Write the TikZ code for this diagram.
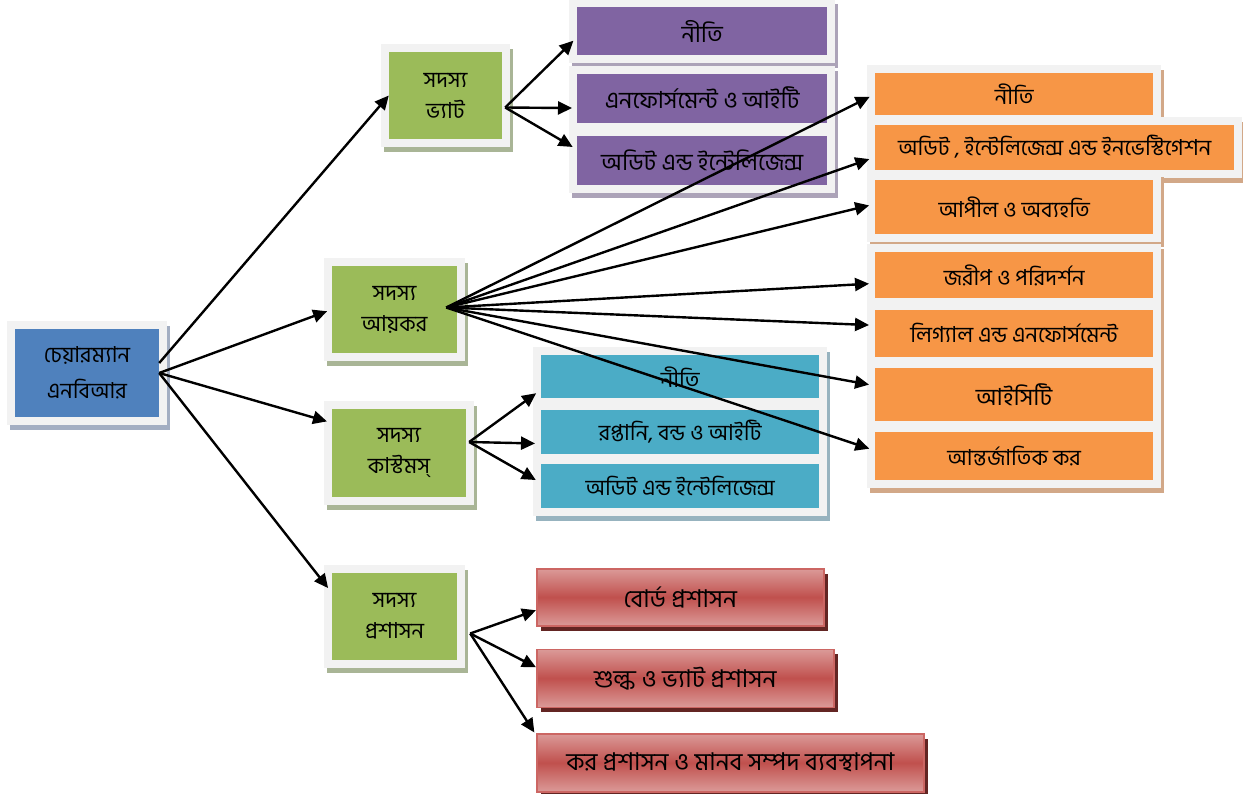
\documentclass[tikz,border=0pt]{standalone}
\usepackage{fontspec}
\newfontfamily\bn[Script=Bengali]{Hind Siliguri}
\usetikzlibrary{arrows.meta, positioning}
\definecolor{framegray}{HTML}{F2F2F2}
\definecolor{chairblue}{HTML}{4F81BD}
\definecolor{memgreen}{HTML}{9BBB59}
\definecolor{vatpurple}{HTML}{8064A2}
\definecolor{taxorange}{HTML}{F79646}
\definecolor{cuscyan}{HTML}{4BACC6}
\definecolor{admred}{HTML}{C0504D}
\definecolor{admredlt}{HTML}{DB9A98}
\definecolor{admborder}{HTML}{CC6663}
\definecolor{admshadow}{HTML}{632523}
\definecolor{sdblue}{HTML}{A3AEC2}
\definecolor{sdgreen}{HTML}{A9B596}
\definecolor{sdpurple}{HTML}{ACA3B8}
\definecolor{sdorange}{HTML}{D2A888}
\definecolor{sdcyan}{HTML}{97B3BF}

\begin{document}
\begin{tikzpicture}[x=1pt, y=-1pt, every node/.style={font=\bn\fontsize{22}{31}\selectfont, inner sep=0pt, align=center}]
  % styles
  \tikzstyle{framebox}=[rectangle, preaction={draw=framegray, line width=16pt}]
  \tikzstyle{chairbox}=[preaction={draw=sdblue, fill=sdblue, line width=16pt, transform canvas={xshift=3pt, yshift=-5pt}}, framebox, fill=chairblue, minimum width=144pt, minimum height=88pt, font=\bn\fontsize{22}{36}\selectfont]
  \tikzstyle{member}=[preaction={draw=sdgreen, fill=sdgreen, line width=16pt, transform canvas={xshift=3pt, yshift=-5pt}}, framebox, fill=memgreen, minimum height=87pt]
  \tikzstyle{vatitem}=[preaction={draw=sdpurple, fill=sdpurple, line width=16pt, transform canvas={xshift=3pt, yshift=-5pt}}, framebox, fill=vatpurple, minimum width=250pt, font=\bn\fontsize{23.5}{30}\selectfont]
  \tikzstyle{taxitem}=[preaction={draw=sdorange, fill=sdorange, line width=16pt, transform canvas={xshift=3pt, yshift=-5pt}}, framebox, fill=taxorange, minimum width=278pt]
  \tikzstyle{cusitem}=[preaction={draw=sdcyan, fill=sdcyan, line width=16pt, transform canvas={xshift=3pt, yshift=-5pt}}, framebox, fill=cuscyan, minimum width=278pt, minimum height=44pt]
  \tikzstyle{admitem}=[rectangle, preaction={fill=admshadow, transform canvas={xshift=4pt, yshift=-5pt}}, draw=admborder, line width=1.5pt, top color=admredlt, bottom color=admredlt, middle color=admred, minimum height=58pt, font=\bn\fontsize{24.5}{30}\selectfont]
  \tikzstyle{arrow}=[line width=2.4pt, -{Triangle[length=14pt, width=13pt]}]

  \useasboundingbox (0,0) rectangle (1243,794);

  % head nodes
  \node (chair) [chairbox] at (87,373) {চেয়ারম্যান\\এনবিআর};
  \node (vat) [member, minimum width=113pt] at (445.5,95.5) {সদস্য\\ভ্যাট};
  \node (tax) [member, minimum width=125pt] at (394.5,309.5) {সদস্য\\আয়কর};
  \node (cus) [member, minimum width=134pt, minimum height=88pt] at (399,453) {সদস্য\\কাস্টমস্};
  \node (adm) [member, minimum width=125pt] at (394.5,616.5) {সদস্য\\প্রশাসন};

  % vat items
  \node (p1) [vatitem, minimum height=48pt, anchor=north west] at (577,7) {নীতি};
  \node (p2) [vatitem, minimum height=49pt, below=18pt of p1] {এনফোর্সমেন্ট ও আইটি};
  \node (p3) [vatitem, minimum height=49pt, below=13pt of p2] {অডিট এন্ড ইন্টেলিজেন্স};

  % income tax items
  \node (o1) [taxitem, minimum height=42pt, anchor=north west] at (875,73) {নীতি};
  \node (o2) [taxitem, minimum width=359pt, minimum height=45pt, below=9pt of o1.south west, anchor=north west] {অডিট , ইন্টেলিজেন্স এন্ড ইনভেস্টিগেশন};
  \node (o3) [taxitem, minimum height=54pt, below=10pt of o2.south west, anchor=north west] {আপীল ও অব্যহতি};
  \node (o4) [taxitem, minimum height=46pt, below=18pt of o3] {জরীপ ও পরিদর্শন};
  \node (o5) [taxitem, minimum height=47pt, below=11pt of o4] {লিগ্যাল এন্ড এনফোর্সমেন্ট};
  \node (o6) [taxitem, minimum height=53pt, below=11pt of o5, font=\bn\fontsize{23.5}{30}\selectfont] {আইসিটি};
  \node (o7) [taxitem, minimum height=48pt, below=10pt of o6] {আন্তর্জাতিক কর};

  % customs items
  \node (c1) [cusitem, minimum height=43pt, anchor=north west] at (541,355) {নীতি};
  \node (c2) [cusitem, below=11pt of c1] {রপ্তানি, বন্ড ও আইটি};
  \node (c3) [cusitem, below=10pt of c2] {অডিট এন্ড ইন্টেলিজেন্স};

  % admin items
  \node (r1) [admitem, minimum width=287pt, minimum height=57pt, anchor=north west] at (536,568) {বোর্ড প্রশাসন};
  \node (r2) [admitem, minimum width=297pt, below=22pt of r1.south west, anchor=north west] {শুল্ক ও ভ্যাট প্রশাসন};
  \node (r3) [admitem, minimum width=387pt, below=25pt of r2.south west, anchor=north west] {কর প্রশাসন ও মানব সম্পদ ব্যবস্থাপনা};

  % hubs
  \coordinate (vathub) at ([xshift=3pt, yshift=-12pt]vat.east);
  \coordinate (taxhub) at ([xshift=-11pt, yshift=2pt]tax.east);
  \coordinate (cushub) at ([xshift=3pt, yshift=11pt]cus.east);
  \coordinate (admhub) at ([xshift=13pt, yshift=-17pt]adm.east);

  % arrows
  \draw[arrow] ([yshift=10pt]chair.east) -- (vat.west);
  \draw[arrow, shorten >=5pt] (chair.east) -- (tax.west);
  \draw[arrow, shorten >=5pt] (chair.east) -- ([yshift=-14pt]cus.north west);
  \draw[arrow, shorten >=6pt] (chair.east) -- ([yshift=-20pt]adm.north west);

  \draw[arrow, shorten >=5pt] (vathub) -- ([yshift=-6pt]p1.west);
  \draw[arrow, shorten >=5pt] (vathub) -- ([yshift=-10pt]p2.west);
  \draw[arrow, shorten >=5pt] (vathub) -- ([yshift=11pt]p3.west);

  \draw[arrow, shorten >=6pt] (taxhub) -- (o1.west);
  \draw[arrow, shorten >=6pt] (taxhub) -- ([yshift=-10pt]o2.west);
  \draw[arrow, shorten >=6pt] (taxhub) -- ([yshift=3pt]o3.west);
  \draw[arrow, shorten >=6pt] (taxhub) -- ([yshift=-8pt]o4.west);
  \draw[arrow, shorten >=6pt] (taxhub) -- ([yshift=8pt]o5.west);
  \draw[arrow, shorten >=6pt] (taxhub) -- ([yshift=9pt]o6.west);
  \draw[arrow, shorten >=6pt] (taxhub) -- ([yshift=5pt]o7.west);

  \draw[arrow, shorten >=6pt] (cushub) -- ([yshift=-13pt]c1.west);
  \draw[arrow, shorten >=6pt] (cushub) -- ([yshift=-12pt]c2.west);
  \draw[arrow, shorten >=6pt] (cushub) -- ([yshift=3pt]c3.west);

  \draw[arrow] (admhub) -- ([yshift=-13pt]r1.west);
  \draw[arrow] (admhub) -- ([yshift=11pt]r2.west);
  \draw[arrow, shorten >=3pt] (admhub) -- ([yshift=-2pt]r3.north west);
\end{tikzpicture}
\end{document}
